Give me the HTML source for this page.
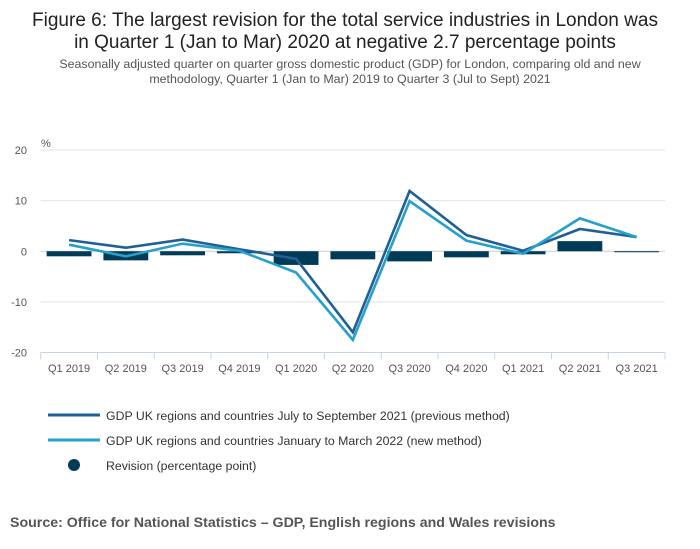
<!DOCTYPE html>
<html><head><meta charset="utf-8"><style>
body{margin:0;background:#fff;font-family:"Liberation Sans",sans-serif;}
svg{display:block}
</style></head><body>
<svg width="700" height="549" viewBox="0 0 700 549" xmlns="http://www.w3.org/2000/svg">
<text x="345" y="26" text-anchor="middle" font-size="19" fill="#222">Figure 6: The largest revision for the total service industries in London was</text>
<text x="345" y="48" text-anchor="middle" font-size="19" fill="#222">in Quarter 1 (Jan to Mar) 2020 at negative 2.7 percentage points</text>
<text x="350" y="68" text-anchor="middle" font-size="12.4" fill="#555">Seasonally adjusted quarter on quarter gross domestic product (GDP) for London, comparing old and new</text>
<text x="350" y="83" text-anchor="middle" font-size="12.4" fill="#555">methodology, Quarter 1 (Jan to Mar) 2019 to Quarter 3 (Jul to Sept) 2021</text>
<text x="41" y="147" font-size="11" fill="#555">%</text>
<g id="grid"></g><g id="bars"></g><g id="lines"></g><g id="xaxis"></g>
<g>
<line x1="48" y1="415" x2="100" y2="415" stroke="#206095" stroke-width="3"/>
<text x="106" y="420" font-size="12.3" fill="#333">GDP UK regions and countries July to September 2021 (previous method)</text>
<line x1="48" y1="440" x2="100" y2="440" stroke="#27a0cc" stroke-width="3"/>
<text x="106" y="445" font-size="12.3" fill="#333">GDP UK regions and countries January to March 2022 (new method)</text>
<circle cx="74" cy="465" r="6" fill="#003c57"/>
<text x="106" y="470" font-size="12.3" fill="#333">Revision (percentage point)</text>
</g>
<text x="10" y="527" font-size="14.2" font-weight="bold" fill="#555">Source: Office for National Statistics – GDP, English regions and Wales revisions</text>
</svg>
<script>
const categories=["Q1 2019","Q2 2019","Q3 2019","Q4 2019","Q1 2020","Q2 2020","Q3 2020","Q4 2020","Q1 2021","Q2 2021","Q3 2021"];
const oldSeries=[2.2,0.7,2.3,0.4,-1.5,-16.0,11.9,3.2,0.1,4.4,2.8];
const newSeries=[1.3,-1.0,1.5,0.1,-4.2,-17.5,9.9,2.1,-0.5,6.5,2.8];
const revision=[-1.0,-1.8,-0.8,-0.4,-2.7,-1.6,-2.0,-1.2,-0.6,2.0,-0.2];
const yTicks=[20,10,0,-10,-20];
const NS="http://www.w3.org/2000/svg";
const X0=40.7,X1=665,Y20=150,Ym20=352.5;
const band=(X1-X0)/categories.length;
const x=i=>X0+band*(i+0.5);
const y=v=>Y20+(20-v)*(Ym20-Y20)/40;
function mk(t,a,p){const e=document.createElementNS(NS,t);for(const k in a)e.setAttribute(k,a[k]);p.appendChild(e);return e;}
const grid=document.getElementById('grid');
yTicks.forEach(v=>{
 if(v>-20){const l=mk('line',{x1:X0,x2:X1,y1:y(v),y2:y(v),stroke:v===0?'#ccc':'#e2e2e2','stroke-width':1},grid);
 
 }
 const t=mk('text',{x:27,y:y(v)+4,'text-anchor':'end','font-size':11,fill:'#555'},grid);t.textContent=v;
 
 
});
const bars=document.getElementById('bars');
revision.forEach((v,i)=>{
 const w=band*0.79;
 const r=mk('rect',{x:x(i)-w/2,y:Math.min(y(v),y(0)),width:w,height:Math.max(1,Math.abs(y(v)-y(0))),fill:'#003c57'},bars);
 
 
});
const lines=document.getElementById('lines');
[[oldSeries,'#206095','old-method-line'],[newSeries,'#27a0cc','new-method-line']].forEach(([s,c,n])=>{
 const p=mk('polyline',{points:s.map((v,i)=>x(i)+','+y(v)).join(' '),fill:'none',stroke:c,'stroke-width':2.6,'stroke-linejoin':'miter'},lines);
 
 
});
const xa=document.getElementById('xaxis');
const ax=mk('line',{x1:X0,x2:X1,y1:Ym20,y2:Ym20,stroke:'#c6d4e6','stroke-width':1},xa);


for(let i=0;i<=categories.length;i++){
 const tk=mk('line',{x1:X0+band*i,x2:X0+band*i,y1:Ym20,y2:Ym20+7,stroke:'#c6d4e6'},xa);
 
 
}
categories.forEach((c,i)=>{
 const t=mk('text',{x:x(i),y:372,'text-anchor':'middle','font-size':11,fill:'#555'},xa);t.textContent=c;
 
 
});
</script>
</body></html>
